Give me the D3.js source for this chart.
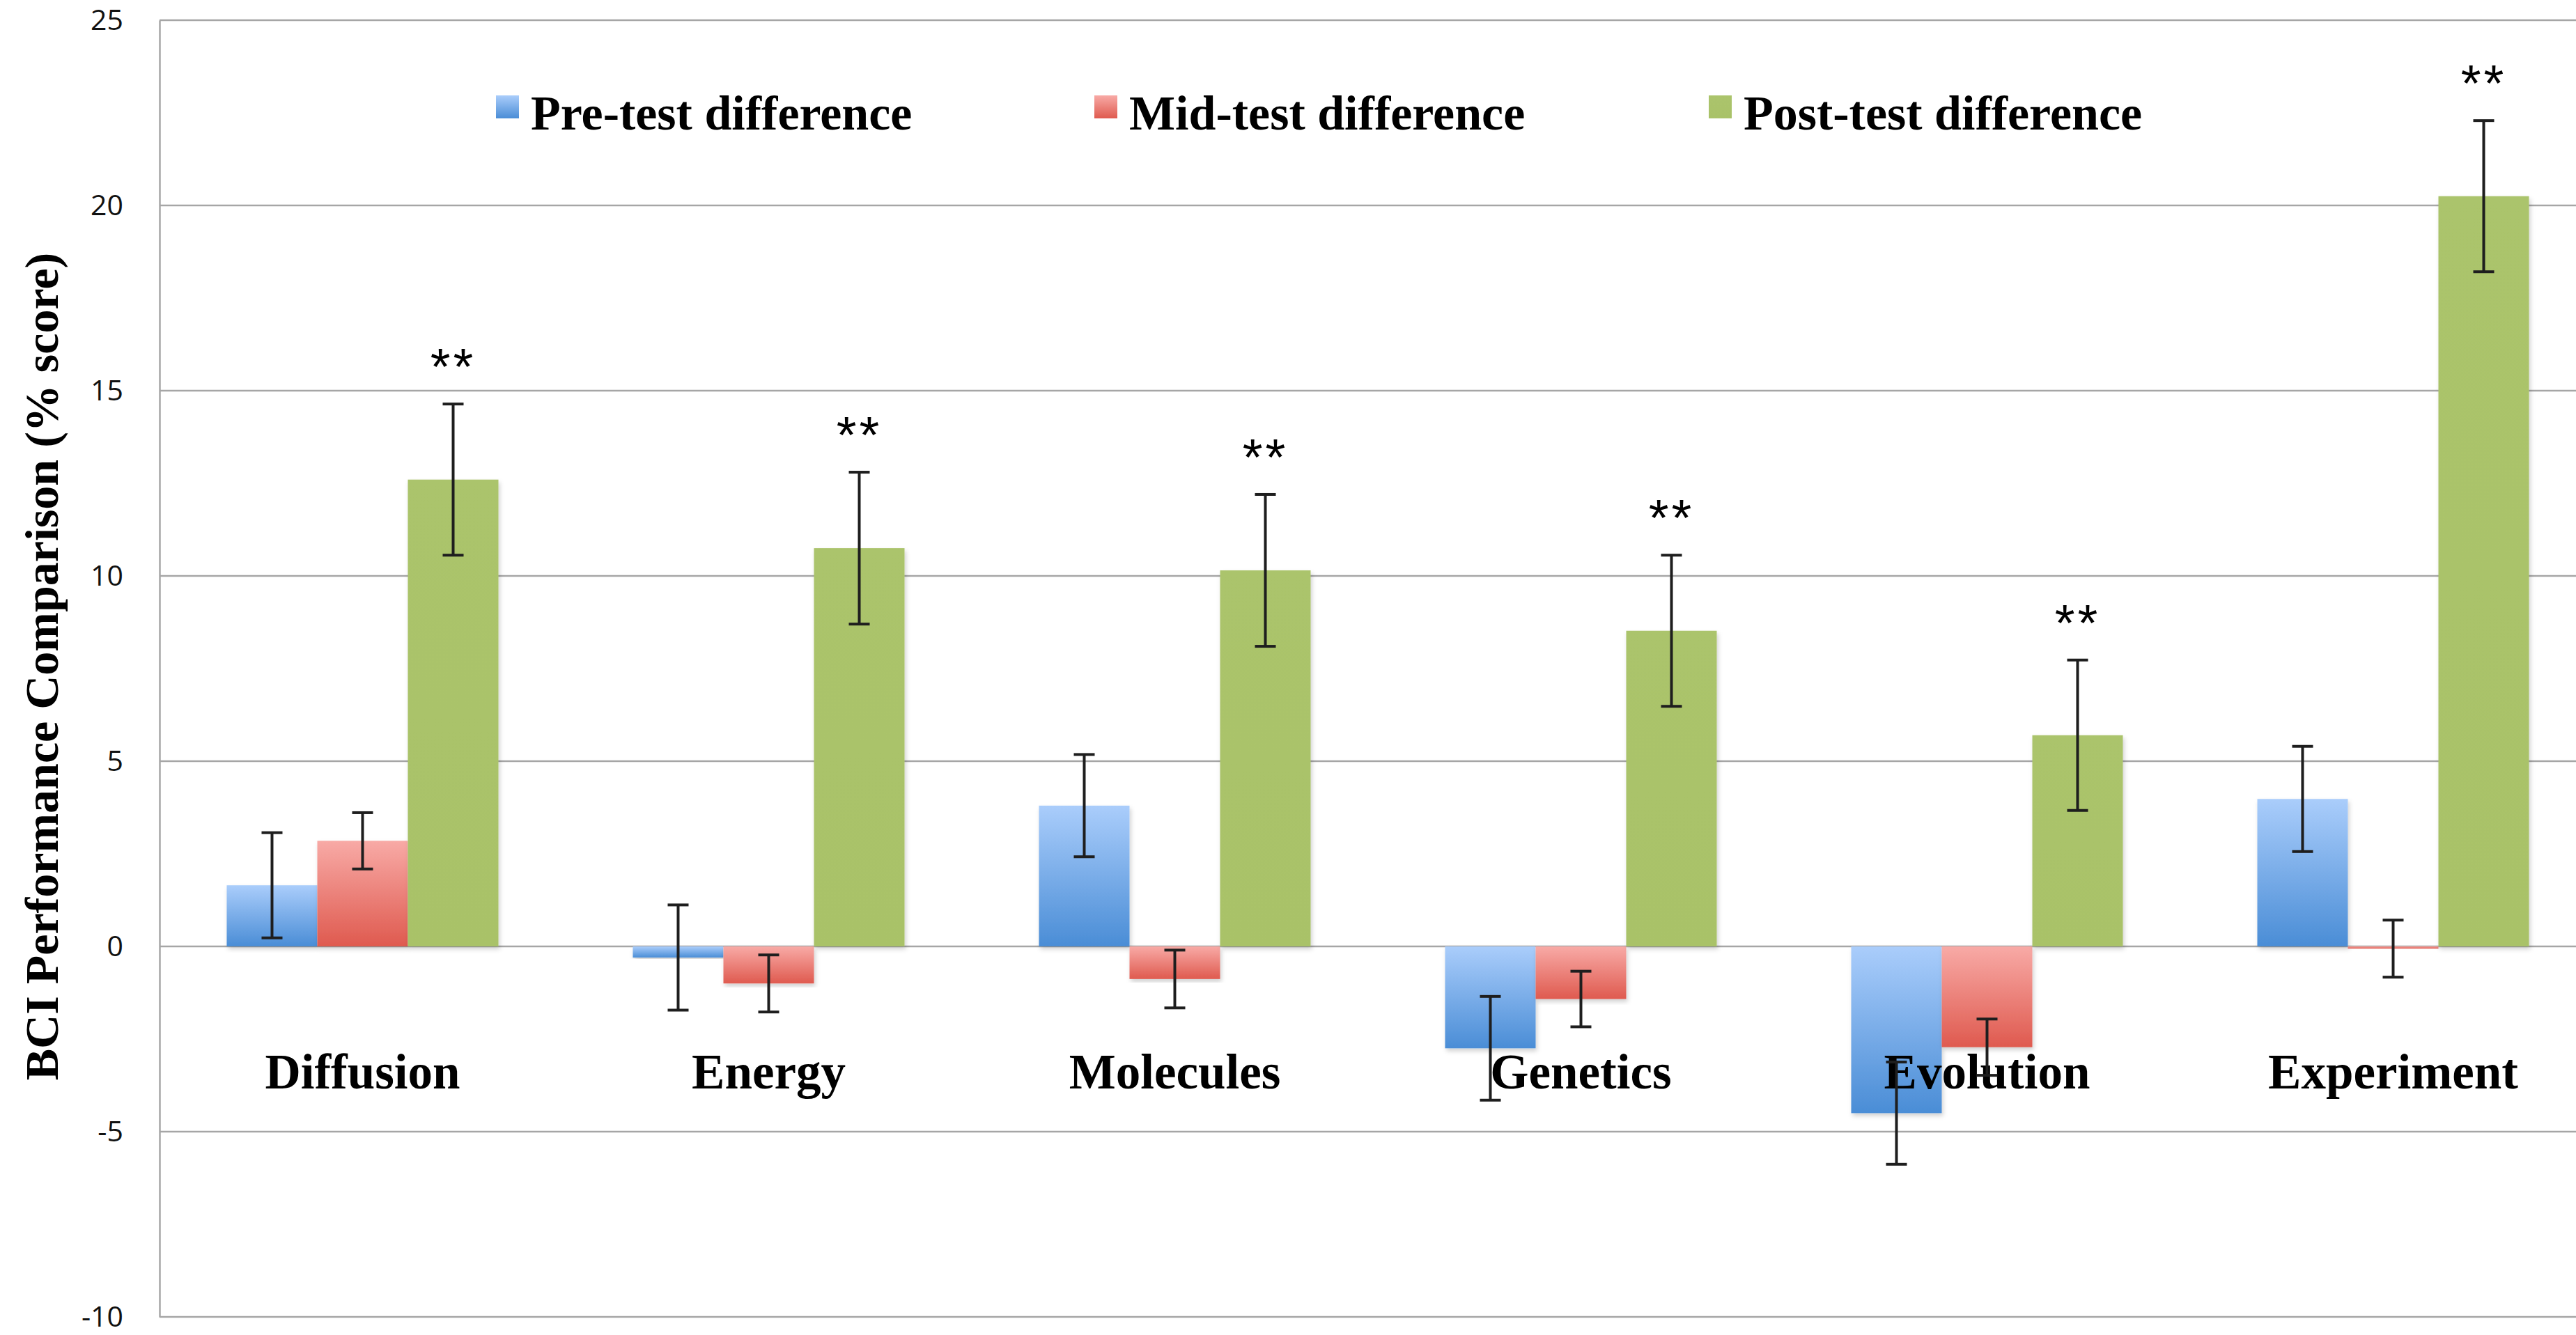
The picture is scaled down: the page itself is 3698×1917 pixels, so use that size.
<!DOCTYPE html>
<html>
<head>
<meta charset="utf-8">
<script src="https://cdn.jsdelivr.net/npm/d3@7"></script>
<style>
  html, body { margin: 0; padding: 0; background: #fff; }
</style>
</head>
<body>
<div id="chart"></div>
<script>
const categories = ["Diffusion", "Energy", "Molecules", "Genetics", "Evolution", "Experiment"];
const seriesNames = ["Pre-test difference", "Mid-test difference", "Post-test difference"];
const preDiff = [1.65, -0.3, 3.8, -2.75, -4.5, 3.98];
const preErr = [1.42, 1.42, 1.38, 1.4, 1.38, 1.42];
const midDiff = [2.85, -1.0, -0.88, -1.42, -2.72, -0.06];
const midErr = [0.76, 0.77, 0.78, 0.75, 0.76, 0.77];
const postDiff = [12.6, 10.75, 10.15, 8.52, 5.7, 20.25];
const postErr = [2.04, 2.05, 2.05, 2.04, 2.03, 2.04];
const significance = ["**", "**", "**", "**", "**", "**"];
const yTicks = [-10, -5, 0, 5, 10, 15, 20, 25];

const width = 3698, height = 1917;
const left = 229, step = 583;

const svg = d3.select('#chart').append('svg')
    .attr('width', width)
    .attr('height', height)
    .style('display', 'block');

const defs = svg.append('defs');
const grads = [
  {id: 'gBlue', top: '#aacdfb', bottom: '#4a8dd6'},
  {id: 'gRed', top: '#f8aaa6', bottom: '#df5a4f'},
  {id: 'gGreen', top: '#abc46c', bottom: '#a9c268'}
];
grads.forEach(g => {
  const lg = defs.append('linearGradient')
      .attr('id', g.id)
      .attr('x1', 0).attr('y1', 0).attr('x2', 0).attr('y2', 1);
  lg.append('stop').attr('offset', '0%').attr('stop-color', g.top);
  lg.append('stop').attr('offset', '100%').attr('stop-color', g.bottom);
});
const shadow = defs.append('filter').attr('id', 'shadow')
    .attr('x', '-10%').attr('y', '-10%').attr('width', '120%').attr('height', '120%');
shadow.append('feDropShadow')
    .attr('dx', 2).attr('dy', 4).attr('stdDeviation', 3)
    .attr('flood-color', '#000').attr('flood-opacity', 0.18);

const y = d3.scaleLinear().domain([-10, 25]).range([1891, 29]);
const x0 = d3.scaleBand().domain(categories).range([left, left + step * categories.length]);
const x1 = d3.scaleBand().domain(seriesNames)
    .range([x0.bandwidth() * 0.1655, x0.bandwidth() * 0.8345]);

// gridlines
svg.append('g')
  .selectAll('line')
  .data(yTicks)
  .join('line')
    .attr('x1', left).attr('x2', width)
    .attr('y1', d => y(d)).attr('y2', d => y(d))
    .attr('stroke', '#a6a6a6')
    .attr('stroke-width', 2.5);

// left axis line + tick labels (plain hyphen for negatives, like the original)
const yAxis = d3.axisLeft(y).tickValues(yTicks).tickSize(0).tickPadding(52)
    .tickFormat(d => String(d));
const gy = svg.append('g').attr('transform', `translate(${left},0)`).call(yAxis);
gy.select('.domain').attr('stroke', '#a6a6a6').attr('stroke-width', 2.5);
gy.selectAll('text')
    .attr('font-family', 'Open Sans, Liberation Sans, Arial, sans-serif')
    .attr('font-size', 41)
    .attr('fill', '#111');

const series = [
  {name: seriesNames[0], vals: preDiff, errs: preErr, fill: 'url(#gBlue)'},
  {name: seriesNames[1], vals: midDiff, errs: midErr, fill: 'url(#gRed)'},
  {name: seriesNames[2], vals: postDiff, errs: postErr, fill: 'url(#gGreen)'}
];

const rows = [];
series.forEach(s => {
  categories.forEach((c, i) => {
    rows.push({cat: c, name: s.name, v: s.vals[i], e: s.errs[i], fill: s.fill});
  });
});

// bars
svg.append('g')
  .selectAll('rect')
  .data(rows)
  .join('rect')
    .attr('x', d => x0(d.cat) + x1(d.name))
    .attr('width', x1.bandwidth())
    .attr('y', d => y(Math.max(0, d.v)))
    .attr('height', d => Math.max(1.5, Math.abs(y(d.v) - y(0))))
    .attr('fill', d => d.fill)
    .attr('filter', 'url(#shadow)');

// category labels
svg.append('g')
  .selectAll('text')
  .data(categories)
  .join('text')
    .attr('x', d => x0(d) + x0.bandwidth() / 2)
    .attr('y', 1563)
    .attr('text-anchor', 'middle')
    .attr('font-family', 'Liberation Serif, Times New Roman, serif')
    .attr('font-weight', 'bold')
    .attr('font-size', 71)
    .attr('fill', '#000')
    .text(d => d);

// error bars
const eb = svg.append('g').attr('stroke', '#1e1e1e').attr('stroke-width', 4);
const cx = d => x0(d.cat) + x1(d.name) + x1.bandwidth() / 2;
eb.selectAll('line.v').data(rows).join('line').attr('class', 'v')
    .attr('x1', cx).attr('x2', cx)
    .attr('y1', d => y(d.v + d.e)).attr('y2', d => y(d.v - d.e));
eb.selectAll('line.t').data(rows).join('line').attr('class', 't')
    .attr('x1', d => cx(d) - 15).attr('x2', d => cx(d) + 15)
    .attr('y1', d => y(d.v + d.e)).attr('y2', d => y(d.v + d.e));
eb.selectAll('line.b').data(rows).join('line').attr('class', 'b')
    .attr('x1', d => cx(d) - 15).attr('x2', d => cx(d) + 15)
    .attr('y1', d => y(d.v - d.e)).attr('y2', d => y(d.v - d.e));

// significance stars
svg.append('g')
  .selectAll('text')
  .data(categories)
  .join('text')
    .attr('x', (d) => x0(d) + x1(seriesNames[2]) + x1.bandwidth() / 2)
    .attr('y', (d, i) => y(postDiff[i] + postErr[i]) - 28)
    .attr('text-anchor', 'middle')
    .attr('font-family', 'Liberation Sans, Arial, sans-serif')
    .attr('font-size', 74)
    .attr('letter-spacing', 4)
    .attr('fill', '#000')
    .text((d, i) => significance[i]);

// legend
const legendX = [712, 1571, 2453];
const legend = svg.append('g')
  .selectAll('g')
  .data(series)
  .join('g')
    .attr('transform', (d, i) => `translate(${legendX[i]},137)`);
legend.append('rect')
    .attr('width', 33).attr('height', 33)
    .attr('fill', d => d.fill);
legend.append('text')
    .attr('x', 50).attr('y', 49)
    .attr('font-family', 'Liberation Serif, Times New Roman, serif')
    .attr('font-weight', 'bold')
    .attr('font-size', 70)
    .attr('fill', '#000')
    .text(d => d.name);

// y axis title
svg.append('text')
    .attr('transform', 'translate(83,957) rotate(-90)')
    .attr('text-anchor', 'middle')
    .attr('font-family', 'Liberation Serif, Times New Roman, serif')
    .attr('font-weight', 'bold')
    .attr('font-size', 68)
    .attr('fill', '#000')
    .text('BCI Performance Comparison (% score)');
</script>
</body>
</html>
